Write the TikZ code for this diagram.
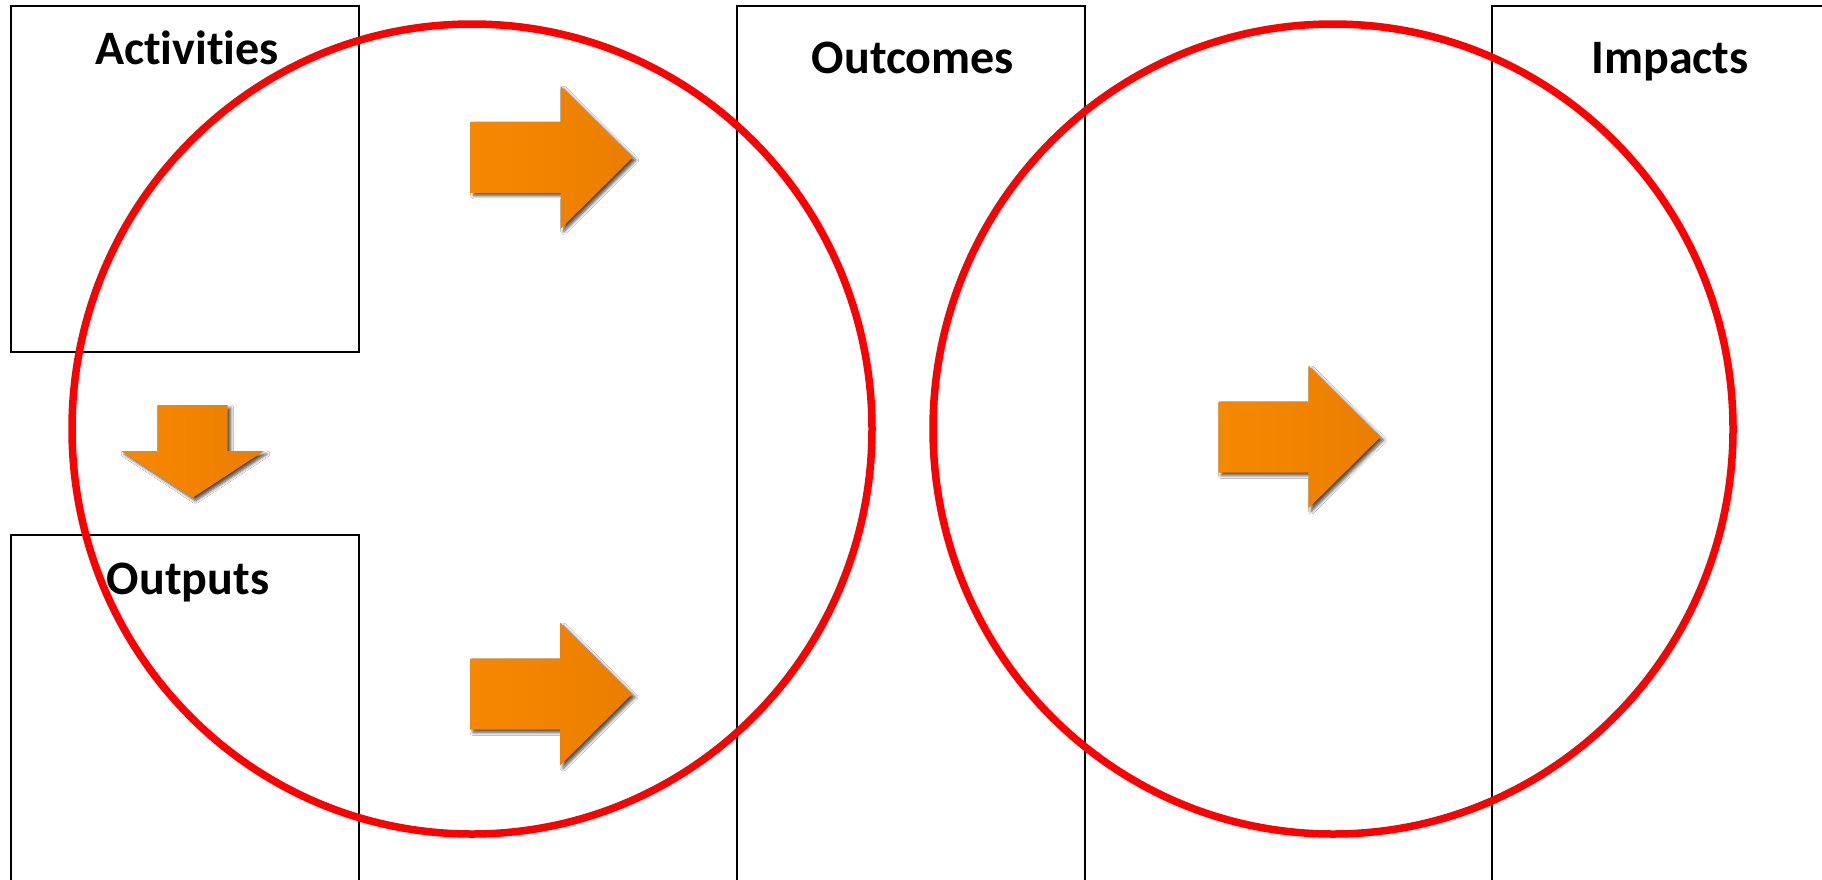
\documentclass[tikz,border=0pt]{standalone}
\usepackage{fontspec}
\setmainfont{Carlito}[Ligatures={NoCommon,NoRare}]
\usetikzlibrary{calc,shadows.blur,shapes.geometric}
\definecolor{arrorangeL}{RGB}{246,136,0}
\definecolor{arrorangeR}{RGB}{236,126,0}
\tikzset{
  box/.style={draw=black, line width=1.6pt, rectangle, inner sep=0pt, fill=none},
  lab/.style={anchor=base, font=\fontsize{48}{52}\selectfont\bfseries, inner sep=0pt},
  ring/.style={draw={rgb,255:red,255;green,0;blue,0}, line width=7.5pt, ellipse, inner sep=0pt, minimum width=800pt, minimum height=810pt},
  oarrow/.style={left color=arrorangeL, right color=arrorangeR, draw=none,
    blur shadow={shadow xshift=3pt, shadow yshift=-3pt, shadow blur steps=6, shadow blur radius=3pt, shadow opacity=70}},
  rarr/.pic={\path[oarrow] (0,-35.5) -- (90,-35.5) -- (90,-71.3) -- (162,0) -- (90,71.3) -- (90,35.5) -- (0,35.5) -- cycle;},
  darr/.pic={\path[oarrow] (-35.2,0) -- (35.2,0) -- (35.2,46) -- (71.3,46) -- (0,92.7) -- (-71.3,46) -- (-35.2,46) -- cycle;}
}
\begin{document}
\begin{tikzpicture}[x=1pt,y=-1pt]
\fill[white] (0,0) rectangle (1822,879);
\begin{scope}
\clip (0,0) rectangle (1822,879);
% boxes
\node[box, minimum width=348pt, minimum height=346pt] (act) at (185,179) {};
\node[box, minimum width=348pt, minimum height=400pt] (outp) at (185,735) {};
\node[box, minimum width=348pt, minimum height=900pt] (outc) at (911,456) {};
\node[box, minimum width=348pt, minimum height=900pt] (imp) at (1666,456) {};
% labels
\node[lab] (tact) at ($(act.north)+(2,59)$) {Activities};
\node[lab] (toutp) at ($(outp.north)+(3,60)$) {Outputs};
\node[lab] (toutc) at ($(outc.north)+(2,68)$) {Outcomes};
\node[lab] (timp) at ($(imp.north)+(4,68)$) {Impacts};
% arrows
\pic (a1) at (470.7,157.3) {rarr};
\pic (a2) at (470.0,694.0) {rarr};
\pic (a3) at (1218.3,437.0) {rarr};
\pic (a4) at (192.5,405) {darr};
% circles
\node[ring] (c1) at (472,429) {};
\node[ring] (c2) at (1333,429) {};
\end{scope}
\pgfresetboundingbox
\useasboundingbox (0,0) rectangle (1822,879);
\end{tikzpicture}
\end{document}
